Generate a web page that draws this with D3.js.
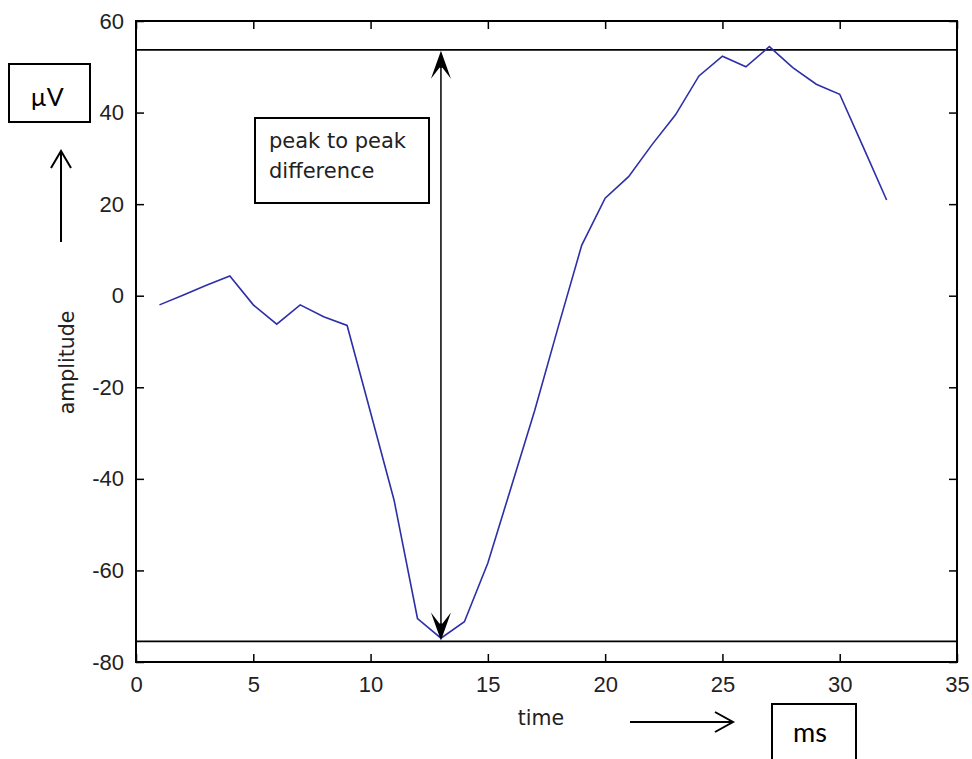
<!DOCTYPE html>
<html>
<head>
<meta charset="utf-8">
<script src="https://cdn.jsdelivr.net/npm/d3@7"></script>
<style>
  body { margin: 0; background: #fff; }
  svg { display: block; }
</style>
</head>
<body>
<svg id="chart" width="972" height="759"></svg>
<script>
// time samples (ms) and amplitude (µV)
const time = [1, 2, 3, 4, 5, 6, 7, 8, 9, 10, 11, 12, 13, 14, 15, 16,
              17, 18, 19, 20, 21, 22, 23, 24, 25, 26, 27, 28, 29, 30, 31, 32];
const amplitude = [-2.0, 0.1, 2.3, 4.3, -2.0, -6.2, -2.0, -4.6, -6.5, -25.5, -44.6, -70.5,
                   -74.8, -71.2, -58.4, -41.7, -25.0, -6.8, 11.0, 21.3, 26.0, 33.0, 39.5, 48.0,
                   52.3, 50.0, 54.4, 49.8, 46.2, 44.0, 32.5, 20.9];

const xTicks = [0, 5, 10, 15, 20, 25, 30, 35];
const yTicks = [-80, -60, -40, -20, 0, 20, 40, 60];

// levels of the two horizontal guide lines and where the arrow sits
const peakLevels = [53.7, -75.5];
const arrowTime = 13;

const svg = d3.select("#chart");

const margin = { top: 21, right: 15, bottom: 97, left: 136 };
const width = 972 - margin.left - margin.right;
const height = 759 - margin.top - margin.bottom;

const chart = svg.append("g")
  .attr("transform", `translate(${margin.left},${margin.top})`);

const x = d3.scaleLinear().domain([0, 35]).range([0, width]);
const y = d3.scaleLinear().domain([-80, 60]).range([height, 0]);

// axes with inward ticks on all four sides
const tickFont = "'Liberation Sans', Arial, sans-serif";
const plain = d => String(d); // keep the ascii hyphen for negatives

const styleAxis = g => {
  g.select(".domain").remove();
  g.selectAll(".tick line").attr("stroke", "#000").attr("stroke-width", 1.5);
  g.selectAll("text")
    .attr("font-family", tickFont)
    .attr("font-size", 22)
    .attr("fill", "#222");
};

chart.append("g")
  .attr("transform", `translate(0,${height})`)
  .call(d3.axisBottom(x).tickValues(xTicks).tickFormat(plain)
    .tickSizeInner(-8).tickSizeOuter(0).tickPadding(14))
  .call(styleAxis);

chart.append("g")
  .call(d3.axisLeft(y).tickValues(yTicks).tickFormat(plain)
    .tickSizeInner(-8).tickSizeOuter(0).tickPadding(12))
  .call(styleAxis);

chart.append("g")
  .call(d3.axisTop(x).tickValues(xTicks).tickSizeInner(-8).tickSizeOuter(0).tickFormat(""))
  .call(styleAxis);

chart.append("g")
  .attr("transform", `translate(${width},0)`)
  .call(d3.axisRight(y).tickValues(yTicks).tickSizeInner(-8).tickSizeOuter(0).tickFormat(""))
  .call(styleAxis);

// plot box
chart.append("rect")
  .attr("x", 0).attr("y", 0)
  .attr("width", width).attr("height", height)
  .attr("fill", "none")
  .attr("stroke", "#000")
  .attr("stroke-width", 2);

// horizontal guide lines at the two peaks
chart.selectAll(".peak-line")
  .data(peakLevels)
  .join("line")
  .attr("class", "peak-line")
  .attr("x1", 0).attr("x2", width)
  .attr("y1", d => y(d)).attr("y2", d => y(d))
  .attr("stroke", "#000")
  .attr("stroke-width", 1.8);

// the signal
const line = d3.line()
  .x((d, i) => x(time[i]))
  .y(d => y(d));

chart.append("path")
  .datum(amplitude)
  .attr("d", line)
  .attr("fill", "none")
  .attr("stroke", "#2e2ea8")
  .attr("stroke-width", 1.6);

// double headed arrow between the peaks
const ax = x(arrowTime);
const yTop = y(peakLevels[0]);
const yBot = y(peakLevels[1]);

chart.append("line")
  .attr("x1", ax).attr("x2", ax)
  .attr("y1", yTop + 4).attr("y2", yBot - 4)
  .attr("stroke", "#000")
  .attr("stroke-width", 1.5);

const head = (tipY, dir) => {
  // dir = 1 points up, -1 points down
  const p = [
    [ax, tipY],
    [ax + 10, tipY + dir * 28],
    [ax + 1.5, tipY + dir * 17],
    [ax - 1.5, tipY + dir * 17],
    [ax - 10, tipY + dir * 28]
  ];
  return "M" + p.map(q => q.join(",")).join("L") + "Z";
};

chart.append("path").attr("d", head(yTop + 1, 1)).attr("fill", "#000");
chart.append("path").attr("d", head(yBot - 1, -1)).attr("fill", "#000");

// annotation box
chart.append("rect")
  .attr("x", 255 - margin.left).attr("y", 118 - margin.top)
  .attr("width", 174).attr("height", 85)
  .attr("fill", "#fff")
  .attr("stroke", "#000")
  .attr("stroke-width", 2);

chart.append("text")
  .attr("x", 269 - margin.left).attr("y", 148 - margin.top)
  .attr("font-family", "'DejaVu Sans', sans-serif")
  .attr("font-size", 21)
  .attr("fill", "#222")
  .selectAll("tspan")
  .data(["peak to peak", "difference"])
  .join("tspan")
  .attr("x", 269 - margin.left)
  .attr("dy", (d, i) => i === 0 ? 0 : 30)
  .text(d => d);

// axis labels
svg.append("text")
  .attr("transform", `translate(74,${margin.top + height / 2 + 21}) rotate(-90)`)
  .attr("text-anchor", "middle")
  .attr("font-family", "'DejaVu Sans', sans-serif")
  .attr("font-size", 20.5)
  .attr("fill", "#222")
  .text("amplitude");

svg.append("text")
  .attr("x", 541).attr("y", 725)
  .attr("text-anchor", "middle")
  .attr("font-family", "'DejaVu Sans', sans-serif")
  .attr("font-size", 20.5)
  .attr("fill", "#222")
  .text("time");

// unit boxes and arrows drawn outside the plot
const unitFont = "Lato, 'Open Sans', sans-serif";

svg.append("rect")
  .attr("x", 9).attr("y", 64)
  .attr("width", 81).attr("height", 58)
  .attr("fill", "#fff").attr("stroke", "#000").attr("stroke-width", 2);

svg.append("text")
  .attr("x", 47).attr("y", 106)
  .attr("text-anchor", "middle")
  .attr("font-family", unitFont)
  .attr("font-size", 25)
  .attr("fill", "#000")
  .text("µV");

svg.append("line")
  .attr("x1", 61).attr("x2", 61).attr("y1", 242).attr("y2", 151)
  .attr("stroke", "#000").attr("stroke-width", 2);
svg.append("path")
  .attr("d", "M51,168L61,151L71,168")
  .attr("fill", "none").attr("stroke", "#000").attr("stroke-width", 2);

svg.append("rect")
  .attr("x", 772).attr("y", 704)
  .attr("width", 84).attr("height", 70)
  .attr("fill", "#fff").attr("stroke", "#000").attr("stroke-width", 2);

svg.append("text")
  .attr("x", 810).attr("y", 742)
  .attr("text-anchor", "middle")
  .attr("font-family", unitFont)
  .attr("font-size", 27)
  .attr("fill", "#000")
  .text("ms");

svg.append("line")
  .attr("x1", 630).attr("x2", 732).attr("y1", 722).attr("y2", 722)
  .attr("stroke", "#000").attr("stroke-width", 2);
svg.append("path")
  .attr("d", "M715,712L733,722L715,732")
  .attr("fill", "none").attr("stroke", "#000").attr("stroke-width", 2);
</script>
</body>
</html>
